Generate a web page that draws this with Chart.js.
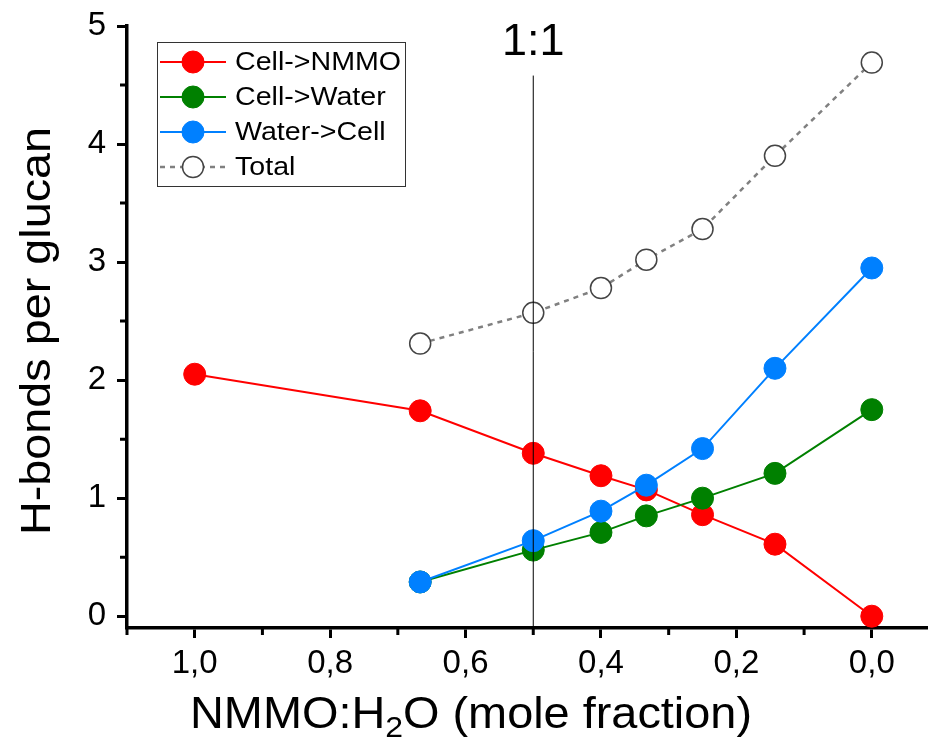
<!DOCTYPE html>
<html>
<head>
<meta charset="utf-8">
<script src="https://cdn.jsdelivr.net/npm/chart.js@4.4.0/dist/chart.umd.min.js"></script>
<style>
  html, body { margin: 0; padding: 0; background: #fff; }
  #wrap { width: 928px; height: 740px; }
</style>
</head>
<body>
<div id="wrap"><canvas id="chart" width="928" height="740"></canvas></div>
<script>
// dados
const fracNMMO = [1.0, 0.667, 0.5, 0.4, 0.333, 0.25, 0.143, 0.0];
const cellNMMO = [2.05, 1.74, 1.38, 1.19, 1.07, 0.86, 0.61, 0.0];
const cellWater = [null, 0.29, 0.56, 0.71, 0.85, 1.0, 1.21, 1.75];
const waterCell = [null, 0.29, 0.64, 0.89, 1.11, 1.42, 2.1, 2.95];
const totalHB = [null, 2.31, 2.57, 2.78, 3.02, 3.28, 3.9, 4.69];

const seriesNames = ["Cell->NMMO", "Cell->Water", "Water->Cell", "Total"];
const xMajor = [0.0, 0.2, 0.4, 0.6, 0.8, 1.0];
const xMinor = [0.1, 0.3, 0.5, 0.7, 0.9, 1.1];
const yMajor = [0, 1, 2, 3, 4, 5];
const yMinor = [0.5, 1.5, 2.5, 3.5, 4.5];
const ratioX = 0.5;
const ratioLabel = "1:1";
const yTitle = "H-bonds per glucan";
const xTitle = ["NMMO:H", "2", "O (mole fraction)"];

const FONT = "'Liberation Sans', Arial, sans-serif";

function pts(ys) {
  return fracNMMO.map((x, i) => ({ x: x, y: ys[i] })).filter(p => p.y !== null);
}

// texto esticado na horizontal (o original tem letras mais largas)
function stretchedText(ctx, txt, x, y, sx) {
  ctx.save();
  ctx.translate(x, y);
  ctx.scale(sx, 1);
  ctx.fillText(txt, 0, 0);
  ctx.restore();
}

// linha vertical 1:1, ticks menores, titulos e legenda
const extras = {
  id: "extras",
  afterDatasetsDraw(chart) {
    const ctx = chart.ctx;
    const xs = chart.scales.x, ys = chart.scales.y;
    const area = chart.chartArea;
    ctx.save();
    // linha 1:1
    const px = xs.getPixelForValue(ratioX);
    ctx.strokeStyle = "#000";
    ctx.lineWidth = 1;
    ctx.beginPath();
    ctx.moveTo(px, ys.getPixelForValue(4.58));
    ctx.lineTo(px, area.bottom);
    ctx.stroke();
    ctx.fillStyle = "#000";
    ctx.font = "45px " + FONT;
    ctx.textAlign = "center";
    ctx.textBaseline = "middle";
    ctx.fillText(ratioLabel, px, ys.getPixelForValue(4.86));

    // ticks menores
    ctx.lineWidth = 3;
    ctx.beginPath();
    xMinor.forEach(v => {
      const p = xs.getPixelForValue(v);
      ctx.moveTo(p, area.bottom);
      ctx.lineTo(p, area.bottom + 7);
    });
    yMinor.forEach(v => {
      const p = ys.getPixelForValue(v);
      ctx.moveTo(area.left, p);
      ctx.lineTo(area.left - 7, p);
    });
    ctx.stroke();

    // titulo do eixo y
    ctx.font = "42px " + FONT;
    ctx.textAlign = "center";
    ctx.textBaseline = "alphabetic";
    const wy = ctx.measureText(yTitle).width;
    ctx.save();
    ctx.translate(50, (area.top + area.bottom) / 2 + 4);
    ctx.rotate(-Math.PI / 2);
    stretchedText(ctx, yTitle, 0, 0, 408 / wy);
    ctx.restore();

    // titulo do eixo x com subscrito
    ctx.textAlign = "left";
    const big = "44px " + FONT, small = "30px " + FONT;
    ctx.font = big;
    const w1 = ctx.measureText(xTitle[0]).width;
    const w3 = ctx.measureText(xTitle[2]).width;
    ctx.font = small;
    const w2 = ctx.measureText(xTitle[1]).width;
    const sx = 562 / (w1 + w2 + w3);
    let tx = 190;
    const base = 728;
    ctx.font = big;
    stretchedText(ctx, xTitle[0], tx, base, sx);
    tx += w1 * sx;
    ctx.font = small;
    stretchedText(ctx, xTitle[1], tx, base + 9, sx);
    tx += w2 * sx;
    ctx.font = big;
    stretchedText(ctx, xTitle[2], tx, base, sx);

    // legenda
    const bx = area.left + 30, by = 42, bw = 248, bh = 144;
    ctx.lineWidth = 1;
    ctx.strokeStyle = "#333";
    ctx.fillStyle = "#fff";
    ctx.fillRect(bx, by, bw, bh);
    ctx.strokeRect(bx + 0.5, by + 0.5, bw, bh);
    const rows = [62, 97, 132, 167];
    chart.data.datasets.forEach((ds, i) => {
      const y = rows[i];
      ctx.save();
      ctx.strokeStyle = ds.borderColor;
      ctx.lineWidth = ds.borderWidth;
      ctx.setLineDash(ds.borderDash || []);
      ctx.beginPath();
      ctx.moveTo(bx + 3, y);
      ctx.lineTo(bx + 69, y);
      ctx.stroke();
      ctx.setLineDash([]);
      ctx.beginPath();
      ctx.arc(bx + 36, y, ds.pointRadius, 0, Math.PI * 2);
      ctx.fillStyle = ds.pointBackgroundColor;
      ctx.fill();
      ctx.lineWidth = ds.pointBorderWidth;
      ctx.strokeStyle = ds.pointBorderColor;
      ctx.stroke();
      ctx.restore();
      ctx.fillStyle = "#000";
      ctx.font = "26px " + FONT;
      ctx.textAlign = "left";
      ctx.textBaseline = "middle";
      stretchedText(ctx, ds.label, bx + 78, y + 1, 1.1);
    });
    ctx.restore();
  }
};

function serie(label, data, color, order) {
  return {
    label: label,
    data: pts(data),
    borderColor: color,
    backgroundColor: color,
    borderWidth: 2,
    pointRadius: 11,
    pointHoverRadius: 11,
    pointBackgroundColor: color,
    pointBorderColor: color,
    pointBorderWidth: 1,
    order: order
  };
}

const datasets = [
  serie(seriesNames[0], cellNMMO, "#ff0000", 3),
  serie(seriesNames[1], cellWater, "#008000", 2),
  serie(seriesNames[2], waterCell, "#0080ff", 1),
  {
    label: seriesNames[3],
    data: pts(totalHB),
    borderColor: "#808080",
    borderWidth: 2.5,
    borderDash: [5, 5],
    pointRadius: 10.5,
    pointHoverRadius: 10.5,
    pointBackgroundColor: "#fff",
    pointBorderColor: "#444",
    pointBorderWidth: 1.5,
    order: 0
  }
];

new Chart(document.getElementById("chart"), {
  type: "line",
  data: { datasets: datasets },
  options: {
    responsive: false,
    animation: false,
    events: [],
    clip: false,
    layout: { autoPadding: false, padding: { left: 0, right: 0, top: 26, bottom: 0 } },
    plugins: { legend: { display: false }, tooltip: { enabled: false } },
    scales: {
      x: {
        type: "linear",
        reverse: true,
        min: -0.083,
        max: 1.1,
        afterBuildTicks: s => { s.ticks = xMajor.map(v => ({ value: v })); },
        afterFit: s => { s.height = 112; s.paddingLeft = 0; s.paddingRight = 0; },
        border: { display: true, color: "#000", width: 3.5 },
        grid: { drawOnChartArea: false, drawTicks: true, tickLength: 10, tickWidth: 3, tickColor: "#000" },
        ticks: {
          color: "#000",
          padding: 6,
          maxRotation: 0,
          font: { family: FONT, size: 33 },
          callback: v => v.toFixed(1).replace(".", ",")
        },
        title: { display: false }
      },
      y: {
        type: "linear",
        min: -0.1,
        max: 5,
        afterBuildTicks: s => { s.ticks = yMajor.map(v => ({ value: v })); },
        afterFit: s => { s.width = 127; s.paddingTop = 0; s.paddingBottom = 0; },
        border: { display: true, color: "#000", width: 3.5 },
        grid: { drawOnChartArea: false, drawTicks: true, tickLength: 10, tickWidth: 3, tickColor: "#000" },
        ticks: {
          color: "#000",
          padding: 11,
          font: { family: FONT, size: 33 },
          callback: v => String(v)
        },
        title: { display: false }
      }
    }
  },
  plugins: [extras]
});
</script>
</body>
</html>
